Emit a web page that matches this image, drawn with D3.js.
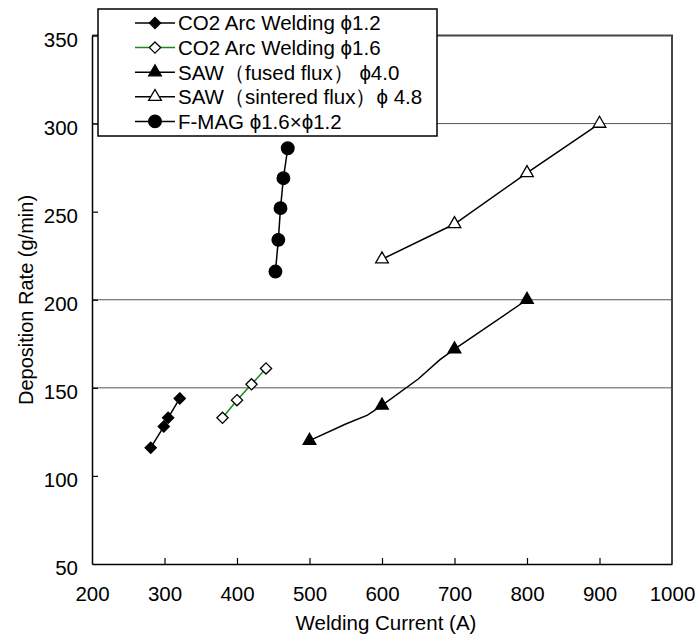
<html>
<style>
body { margin: 0; background: #fff; }
text { font-family: "Liberation Sans", Arial, sans-serif; fill: #000; }
.frame { fill: none; stroke: #444; stroke-width: 2px; }
.grid { stroke: #555; stroke-width: 1px; }
</style>
<svg width="698" height="639"></svg>
<script src="https://d3js.org/d3.v7.min.js"></script>
<script>

// values
var xTicks = [200, 300, 400, 500, 600, 700, 800, 900, 1000],
    yTicks = [50, 100, 150, 200, 250, 300, 350],
    gridValues = [150, 200, 300];

var co2Small = [[281, 116], [299, 128], [305, 133], [321, 144]],
    co2Large = [[380, 133], [400, 143], [420, 152], [440, 161]],
    sawFused = [[500, 120], [600, 140], [700, 172], [800, 200]],
    sawFusedTrace = [[500, 120], [550, 129.5], [580, 134.5], [600, 140], [650, 155], [680, 166], [700, 172], [800, 200]],
    sawSintered = [[600, 223], [700, 243], [800, 272], [900, 300]],
    fmag = [[453, 216], [457, 234], [460, 252], [464, 269], [470, 286]];

var legendLabels = [
  "CO2 Arc Welding \u03d51.2",
  "CO2 Arc Welding \u03d51.6",
  "SAW\uff08fused flux\uff09 \u03d54.0",
  "SAW\uff08sintered flux\uff09\u03d5 4.8",
  "F-MAG \u03d51.6\u00d7\u03d51.2"
];

var svg = d3.select("svg"),
    margin = {top: 35.5, right: 26, bottom: 75, left: 92},
    width = 698 - margin.left - margin.right,
    height = 639 - margin.top - margin.bottom,
    g = svg.append("g").attr("transform", "translate(" + margin.left + "," + margin.top + ")");

var x = d3.scaleLinear().domain([200, 1000]).range([0, width]);
var y = d3.scaleLinear().domain([50, 350]).range([height, 0]);

// grid lines
g.selectAll(".grid")
  .data(gridValues)
  .enter().append("line")
    .attr("class", "grid")
    .attr("x1", 0).attr("x2", width)
    .attr("y1", function(d) { return y(d); })
    .attr("y2", function(d) { return y(d); });

// top / right frame
g.append("path")
    .attr("class", "frame")
    .attr("d", "M0,0H" + width + "V" + height);

// axes with inward ticks
var xAxis = g.append("g")
    .attr("transform", "translate(0," + height + ")")
    .call(d3.axisBottom(x).tickValues(xTicks).tickFormat(d3.format("d"))
      .tickSize(-6).tickPadding(22).tickSizeOuter(0));
var yAxis = g.append("g")
    .call(d3.axisLeft(y).tickValues(yTicks).tickSize(-6).tickPadding(14).tickSizeOuter(0));

[xAxis, yAxis].forEach(function(a) {
  a.attr("font-size", 20.5).attr("font-family", "Liberation Sans, Arial, sans-serif");
  a.select(".domain").attr("stroke", "#000").attr("stroke-width", 1.5);
  a.selectAll(".tick line").attr("stroke", "#000").attr("stroke-width", 1.2);
  a.selectAll(".tick text").attr("fill", "#000");
});
yAxis.selectAll(".tick text").attr("dy", "0.52em");
xAxis.selectAll(".tick").filter(function(d) { return d === 200 || d === 1000; }).select("line").remove();
yAxis.selectAll(".tick").filter(function(d) { return d === 50; }).select("line").remove();

svg.append("text")
    .attr("x", 386)
    .attr("y", 630)
    .attr("text-anchor", "middle")
    .attr("font-size", 20.5)
    .text("Welding Current (A)");

svg.append("text")
    .attr("transform", "translate(33,300) rotate(-90)")
    .attr("text-anchor", "middle")
    .attr("font-size", 20)
    .text("Deposition Rate (g/min)");

var line = d3.line()
    .x(function(d) { return x(d[0]); })
    .y(function(d) { return y(d[1]); });

var series = [
  {data: co2Small, trace: co2Small, stroke: "#000", shape: d3.symbolDiamond2, fill: "#000"},
  {data: co2Large, trace: co2Large, stroke: "#1a8a1a", shape: d3.symbolDiamond2, fill: "#fff"},
  {data: sawFused, trace: sawFusedTrace, stroke: "#000", shape: d3.symbolTriangle, fill: "#000"},
  {data: sawSintered, trace: sawSintered, stroke: "#000", shape: d3.symbolTriangle, fill: "#fff"},
  {data: fmag, trace: fmag, stroke: "#000", shape: d3.symbolCircle, fill: "#000"}
];

function symbolPath(s) {
  if (s.shape === d3.symbolCircle) return d3.symbol().type(s.shape).size(125)();
  if (s.shape === d3.symbolTriangle) return d3.symbol().type(s.shape).size(70)();
  return d3.symbol().type(d3.symbolDiamond2).size(80)();
}

series.forEach(function(s) {
  g.append("path")
    .attr("d", line(s.trace))
    .attr("fill", "none")
    .attr("stroke", s.stroke)
    .attr("stroke-width", 1.5);
  g.selectAll(null)
    .data(s.data)
    .enter().append("path")
      .attr("d", symbolPath(s))
      .attr("transform", function(d) { return "translate(" + x(d[0]) + "," + y(d[1]) + ")"; })
      .attr("fill", s.fill)
      .attr("stroke", "#000")
      .attr("stroke-width", 1.3);
});

// legend
var lg = svg.append("g").attr("transform", "translate(98,9)");
lg.append("rect")
    .attr("width", 339).attr("height", 127)
    .attr("fill", "#fff").attr("stroke", "#000").attr("stroke-width", 1.5);

var rows = lg.selectAll(".row")
  .data(series)
  .enter().append("g")
    .attr("transform", function(d, i) { return "translate(0," + (14 + i * 24.6) + ")"; });
rows.append("line")
    .attr("x1", 37).attr("x2", 77)
    .attr("stroke", function(d) { return d.stroke; })
    .attr("stroke-width", 1.5);
rows.append("path")
    .attr("d", function(d) { return symbolPath(d); })
    .attr("transform", "translate(57,0)")
    .attr("fill", function(d) { return d.fill; })
    .attr("stroke", "#000").attr("stroke-width", 1.3);
rows.append("text")
    .attr("x", 80).attr("dy", "0.36em")
    .attr("font-size", 20.5)
    .text(function(d, i) { return legendLabels[i]; });

</script>
</html>
